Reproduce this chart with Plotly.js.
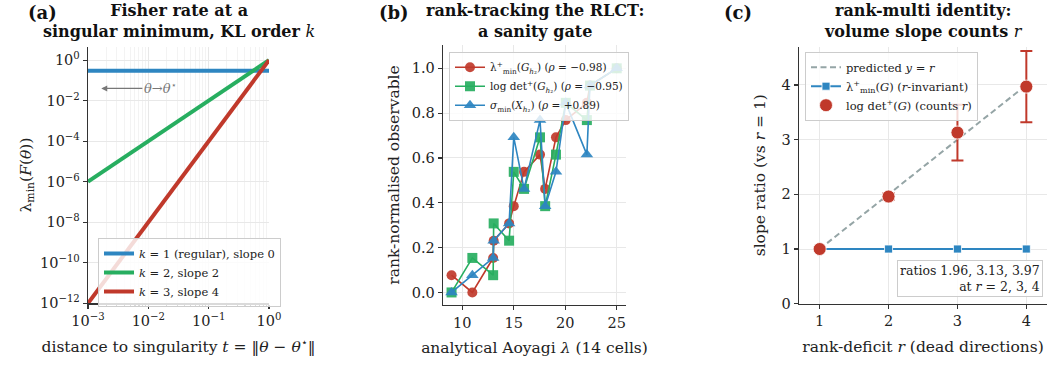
<!DOCTYPE html>
<html>
<head>
<meta charset="utf-8">
<script src="https://cdn.plot.ly/plotly-3.0.1.min.js"></script>
<style>
html,body{margin:0;padding:0;background:#ffffff;}
#chart{width:1047px;height:366px;}
</style>
</head>
<body>
<div id="chart"></div>
<script>
// ---------- Panel (a): Fisher rate vs distance (log-log) ----------
const distT      = [0.001, 1];
const fisherK1   = [0.3, 0.3];      // k = 1 (regular), slope 0
const fisherK2   = [1e-6, 1];       // k = 2, slope 2
const fisherK3   = [1e-12, 1];      // k = 3, slope 4
const aXTickVals = [0.001, 0.01, 0.1, 1];
const aXTickText = ['10<sup>\u22123</sup>', '10<sup>\u22122</sup>', '10<sup>\u22121</sup>', '10<sup>0</sup>'];
const aYTickVals = [1e-12, 1e-10, 1e-8, 1e-6, 1e-4, 1e-2, 1];
const aYTickText = ['10<sup>\u221212</sup>', '10<sup>\u221210</sup>', '10<sup>\u22128</sup>', '10<sup>\u22126</sup>', '10<sup>\u22124</sup>', '10<sup>\u22122</sup>', '10<sup>0</sup>'];

// ---------- Panel (b): rank-normalised observables over 14 cells ----------
const aoyagiLambda = [8.96, 10.98, 13.0, 13.05, 14.55, 15.0, 16.0, 17.55, 18.05, 19.1, 20.05, 22.1, 22.4, 25.0];
const lamMinRank   = [0.077, 0.0, 0.154, 0.231, 0.308, 0.385, 0.538, 0.615, 0.462, 0.692, 0.769, 0.846, 0.923, 1.0];
const logDetRank   = [0.0, 0.154, 0.077, 0.308, 0.231, 0.538, 0.462, 0.692, 0.385, 0.615, 0.846, 0.769, 0.923, 1.0];
const sigMinRank   = [0.0, 0.077, 0.154, 0.231, 0.308, 0.692, 0.462, 0.769, 0.385, 0.538, 0.846, 0.615, 0.923, 1.0];

// ---------- Panel (c): slope ratio vs rank deficit ----------
const rankDeficit   = [1, 2, 3, 4];
const predictedLine = [1, 2, 3, 4];
const lamInvariant  = [1, 1, 1, 1];
const logDetRatio   = [1.0, 1.96, 3.13, 3.97];
const logDetErr     = [0.0, 0.06, 0.51, 0.65];

const FONT  = 'DejaVu Serif, serif';
const BLUE  = '#2E86C1';
const GREEN = '#27AE60';
const RED   = '#C0392B';
const GREY  = '#95A5A6';
const AXC   = '#333333';
const GRID  = '#e8e8e8';
const TICK_SIZE = 14.5;
const LABEL_SIZE = 15.5;

const W = 1047, H = 366;
const px = v => v / W;
const py = v => 1 - v / H;

const traces = [
  // (a)
  {x: distT, y: fisherK1, xaxis: 'x', yaxis: 'y', mode: 'lines', line: {color: BLUE, width: 4},
   name: '<i>k</i> = 1 (regular), slope 0', legend: 'legend'},
  {x: distT, y: fisherK2, xaxis: 'x', yaxis: 'y', mode: 'lines', line: {color: GREEN, width: 4},
   name: '<i>k</i> = 2, slope 2', legend: 'legend'},
  {x: distT, y: fisherK3, xaxis: 'x', yaxis: 'y', mode: 'lines', line: {color: RED, width: 4},
   name: '<i>k</i> = 3, slope 4', legend: 'legend'},
  // (b)
  {x: aoyagiLambda, y: lamMinRank, xaxis: 'x2', yaxis: 'y2', mode: 'lines+markers',
   line: {color: RED, width: 1.6}, marker: {symbol: 'circle', size: 10, color: RED, opacity: 0.92},
   name: '\u03bb<sup>+</sup><sub>min</sub>(<i>G</i><sub><i>h</i>\u2082</sub>) (<i>\u03c1</i> = \u22120.98)', legend: 'legend2'},
  {x: aoyagiLambda, y: logDetRank, xaxis: 'x2', yaxis: 'y2', mode: 'lines+markers',
   line: {color: GREEN, width: 1.6}, marker: {symbol: 'square', size: 10, color: GREEN, opacity: 0.92},
   name: 'log det<sup>+</sup>(<i>G</i><sub><i>h</i>\u2082</sub>) (<i>\u03c1</i> = \u22120.95)', legend: 'legend2'},
  {x: aoyagiLambda, y: sigMinRank, xaxis: 'x2', yaxis: 'y2', mode: 'lines+markers',
   line: {color: BLUE, width: 1.6}, marker: {symbol: 'triangle-up', size: 11, color: BLUE, opacity: 0.92},
   name: '<i>\u03c3</i><sub>min</sub>(<i>X</i><sub><i>h</i>\u2082</sub>) (<i>\u03c1</i> = +0.89)', legend: 'legend2'},
  // (c)
  {x: rankDeficit, y: predictedLine, xaxis: 'x3', yaxis: 'y3', mode: 'lines',
   line: {color: GREY, width: 2, dash: '6px,3.5px'},
   name: 'predicted <i>y</i> = <i>r</i>', legend: 'legend3'},
  {x: rankDeficit, y: lamInvariant, xaxis: 'x3', yaxis: 'y3', mode: 'lines+markers',
   line: {color: BLUE, width: 2}, marker: {symbol: 'square', size: 8, color: BLUE, line: {color: '#ffffff', width: 0.8}},
   name: '\u03bb<sup>+</sup><sub>min</sub>(<i>G</i>) (<i>r</i>-invariant)', legend: 'legend3'},
  {x: rankDeficit, y: logDetRatio, xaxis: 'x3', yaxis: 'y3', mode: 'markers',
   marker: {symbol: 'circle', size: 13, color: RED, line: {color: '#ffffff', width: 0.8}},
   error_y: {type: 'data', array: logDetErr, visible: true, color: RED, thickness: 2, width: 6},
   name: 'log det<sup>+</sup>(<i>G</i>) (counts <i>r</i>)', legend: 'legend3'}
];

function baseAxis(extra) {
  return Object.assign({
    showline: true, linecolor: AXC, linewidth: 1.3, mirror: false,
    ticks: 'outside', ticklen: 4, tickwidth: 1.1, tickcolor: AXC,
    showgrid: true, gridcolor: GRID, gridwidth: 1, zeroline: false,
    tickfont: {family: FONT, size: TICK_SIZE, color: '#222'}
  }, extra);
}
function axTitle(text, standoff) {
  return {text: text, font: {family: FONT, size: LABEL_SIZE, color: '#222'}, standoff: standoff};
}

const legendBase = {
  bgcolor: 'rgba(255,255,255,0.82)', bordercolor: '#cccccc', borderwidth: 1,
  xanchor: 'left', yanchor: 'top', tracegroupgap: 0, itemsizing: 'trace'
};
const legFont = s => ({family: FONT, size: s, color: '#222'});

const titleFont  = {family: FONT, size: 16, color: '#111'};
const letterFont = {family: FONT, size: 18, color: '#111'};
function ann(text, xc, yc, font) {
  return {text: text, xref: 'paper', yref: 'paper', x: px(xc), y: py(yc),
          xanchor: 'center', yanchor: 'middle', showarrow: false, font: font};
}

const layout = {
  width: W, height: H,
  margin: {l: 0, r: 0, t: 0, b: 0, pad: 0},
  paper_bgcolor: '#ffffff', plot_bgcolor: '#ffffff',
  font: {family: FONT, color: '#222'},
  showlegend: true,
  xaxis: baseAxis({
    type: 'log', domain: [px(88), px(269)], anchor: 'y',
    range: [-3, 0], tickmode: 'array', tickvals: aXTickVals, ticktext: aXTickText,
    minor: {ticks: 'outside', ticklen: 2.5, tickcolor: AXC, dtick: 'D1', showgrid: true, gridcolor: '#f3f3f3'},
    title: axTitle('distance to singularity <i>t</i> = \u2016<i>\u03b8</i> \u2212 <i>\u03b8</i><sup>\u22c6</sup>\u2016', 13)
  }),
  yaxis: baseAxis({
    type: 'log', domain: [py(303.3), py(46.7)], anchor: 'x',
    range: [-12, 0.66], tickmode: 'array', tickvals: aYTickVals, ticktext: aYTickText,
    title: axTitle('\u03bb<sub>min</sub>(<i>F</i>(<i>\u03b8</i>))', 4)
  }),
  xaxis2: baseAxis({
    domain: [px(443), px(626)], anchor: 'y2', range: [8.13, 25.9],
    tickvals: [10, 15, 20, 25],
    title: axTitle('analytical Aoyagi <i>\u03bb</i> (14 cells)', 12)
  }),
  yaxis2: baseAxis({
    domain: [py(305), py(45)], anchor: 'x2', range: [-0.056, 1.104],
    tickvals: [0, 0.2, 0.4, 0.6, 0.8, 1.0], tickformat: '.1f',
    title: axTitle('rank-normalised observable', 8)
  }),
  xaxis3: baseAxis({
    domain: [px(799), 1], anchor: 'y3', range: [0.7, 4.3],
    tickvals: [1, 2, 3, 4],
    title: axTitle('rank-deficit <i>r</i> (dead directions)', 12)
  }),
  yaxis3: baseAxis({
    domain: [py(303.7), py(46.7)], anchor: 'x3', range: [0, 4.7],
    tickvals: [0, 1, 2, 3, 4],
    title: axTitle('slope ratio (vs <i>r</i> = 1)', 12)
  }),
  legend:  Object.assign({}, legendBase, {x: px(98),  y: py(238), font: legFont(11.5)}),
  legend2: Object.assign({}, legendBase, {x: px(449), y: py(51.7),  font: legFont(10.5)}),
  legend3: Object.assign({}, legendBase, {x: px(805), y: py(51.7),  font: legFont(11.5)}),
  annotations: [
    ann('<b>(a)</b>', 42, 12, letterFont),
    ann('<b>Fisher rate at a</b><br><b>singular minimum, KL order </b><i>k</i>', 178.5, 20.5, titleFont),
    ann('<b>(b)</b>', 394, 12, letterFont),
    ann('<b>rank-tracking the RLCT:</b><br><b>a sanity gate</b>', 534.5, 20.5, titleFont),
    ann('<b>(c)</b>', 738, 12, letterFont),
    ann('<b>rank-multi identity:</b><br><b>volume slope counts </b><i>r</i>', 923, 20.5, titleFont),
    {text: '<i>\u03b8</i>\u2192<i>\u03b8</i><sup>\u22c6</sup>', xref: 'x', yref: 'y',
     x: -2.78, y: -1.4, ax: -1.8, ay: -1.4, axref: 'x', ayref: 'y',
     showarrow: true, arrowhead: 2, arrowsize: 1, arrowwidth: 1.2, arrowcolor: '#777',
     standoff: 0, font: {family: FONT, size: 13, color: '#777'}},
    {text: 'ratios 1.96, 3.13, 3.97<br>at <i>r</i> = 2, 3, 4', xref: 'paper', yref: 'paper',
     x: px(1043), y: py(296.7), xanchor: 'right', yanchor: 'bottom', align: 'right',
     showarrow: false, bgcolor: 'rgba(255,255,255,0.85)', bordercolor: '#cccccc', borderwidth: 1, borderpad: 2,
     font: {family: FONT, size: 12.5, color: '#222'}}
  ]
};

Plotly.newPlot('chart', traces, layout, {displayModeBar: false, staticPlot: true});
</script>
</body>
</html>
